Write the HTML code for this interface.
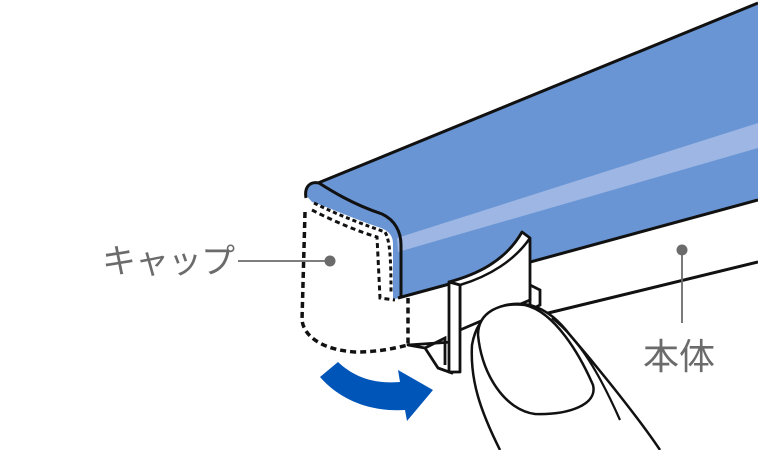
<!DOCTYPE html>
<html><head><meta charset="utf-8"><style>
html,body{margin:0;padding:0;background:#fff;width:758px;height:450px;overflow:hidden}
svg{display:block}
text{font-family:"Liberation Sans","Noto Sans CJK JP",sans-serif;fill:#6b6b6b}
</style></head><body>
<svg width="758" height="450" viewBox="0 0 758 450">
<path d="M395,298 L758,200 L758,262 L545,314 L410,345 Z" fill="#fff"/>
<path d="M540,315 L758,262" stroke="#111" stroke-width="3" fill="none"/>
<path d="M307,192 C307,185 312,182 320,182 L758,3 L758,200 L395,298 L395,245 C392,232 385,228 372,224 C345,216 325,205 312,198 Z" fill="#6995d4"/>
<path d="M305,194 C305,186 311,182 318,183 C330,190 352,204 382,214 C395,220 401,232 401,245 L401,298 L393,299 L393,244 C393,235 388,230 378,227 C352,218 330,208 312,202 Z" fill="#6995d4"/>
<path d="M397,238 L758,123 L758,148 L398,252 Z" fill="#9db6e3"/>
<path d="M318,183 L758,3" stroke="#111" stroke-width="3" fill="none"/>
<path d="M306,198 C304,187 310,181 319,183 C330,190 352,204 382,214 C395,220 401,232 401,245 L401,298" stroke="#111" stroke-width="3" fill="none"/>
<path d="M398,298 L758,200" stroke="#111" stroke-width="3" fill="none"/>
<path d="M305,212 L302,320 C304,338 325,350 355,352 C380,352 395,348 408,345 L408,298" stroke="#111" stroke-width="3.5" stroke-dasharray="6,4" fill="none"/>
<path d="M312,210 C335,222 360,232 377,237 L380,298 L395,300" stroke="#111" stroke-width="3" stroke-dasharray="5,3.5" fill="none"/>
<path d="M314,203 C340,216 365,225 385,232 C390,240 391,260 391,292" stroke="#111" stroke-width="3" stroke-dasharray="4,3" fill="none"/>
<path d="M408,345 L425,348 L438,368 L452,373 L452,342 Z" fill="#fff" stroke="#111" stroke-width="2.8" stroke-linejoin="round"/>
<path d="M425,348 L445,338 L445,365" fill="none" stroke="#111" stroke-width="2.8"/>
<path d="M530,285 L540,290 L540,305 L530,310 Z" fill="#fff" stroke="#111" stroke-width="2.8"/>
<path d="M449,282 C475,275 505,262 522,232 L530,238 L530,300 L460,330 L460,285 Z" fill="#fff" stroke="#111" stroke-width="2.8" stroke-linejoin="round"/>
<path d="M449,282 L460,285 L460,372 L449,372 Z" fill="#fff" stroke="#111" stroke-width="2.8" stroke-linejoin="round"/>
<path d="M460,285 C490,276 515,260 530,238" fill="none" stroke="#111" stroke-width="2.5"/>
<path d="M500,450 C480,410 470,380 472,345 C478,310 505,300 530,305 C548,310 560,322 570,335 C600,370 640,420 660,450 Z" fill="#fff"/>
<path d="M500,450 C480,410 470,380 472,345 C478,310 505,300 530,305 C548,310 560,322 570,335 C600,370 640,420 660,450" fill="none" stroke="#111" stroke-width="2.5"/>
<path d="M478,335 C478,312 500,302 525,305 C555,312 580,355 593,385 C598,405 568,415 535,414 C505,410 482,375 478,335 Z" fill="#fff" stroke="#111" stroke-width="2.5"/>
<path d="M552,318 C580,340 600,375 620,420" fill="none" stroke="#111" stroke-width="2.2"/>
<path d="M320,377 L338,362 C355,378 375,384 400,382 L398,370 L433,390 L407,421 L405,410 C370,412 340,400 320,377 Z" fill="#0055b8"/>
<line x1="238" y1="261" x2="330" y2="261" stroke="#6b6b6b" stroke-width="1.8"/>
<circle cx="330" cy="261" r="5.5" fill="#6b6b6b"/>
<text x="102" y="273" font-size="34" letter-spacing="-1">キャップ</text>
<line x1="682" y1="250" x2="682" y2="323" stroke="#6b6b6b" stroke-width="1.8"/>
<circle cx="682" cy="250" r="5.5" fill="#6b6b6b"/>
<text x="643" y="369" font-size="36">本体</text>
</svg>
</body></html>
